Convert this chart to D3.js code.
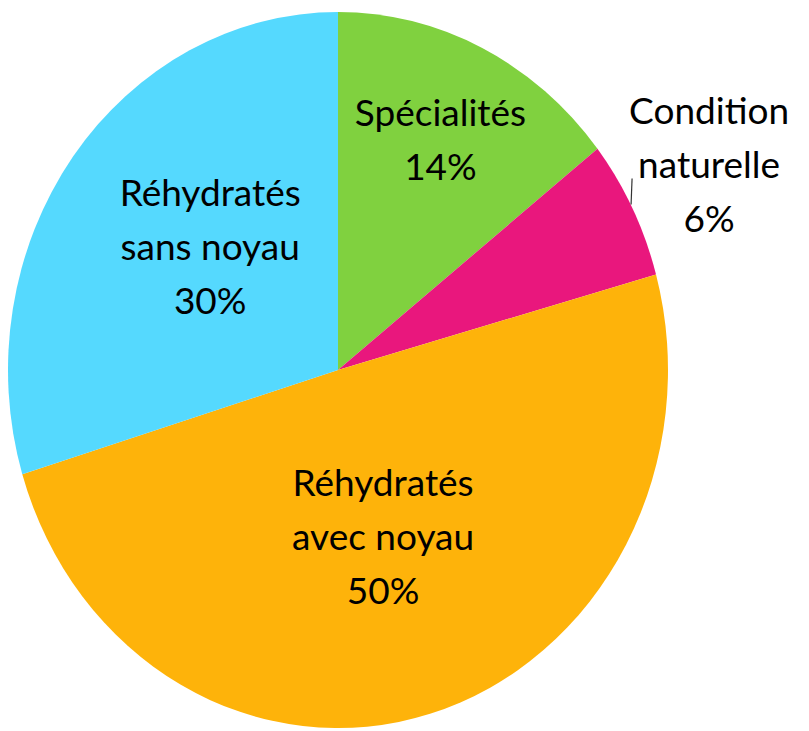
<!DOCTYPE html>
<html>
<head>
<meta charset="utf-8">
<script src="https://cdn.jsdelivr.net/npm/d3@7"></script>
<style>
  body { margin: 0; background: #fff; }
  text { font-family: Lato, "Open Sans", sans-serif; fill: #000; }
</style>
</head>
<body>
<div id="chart"></div>
<script>
// slice data, clockwise from 12 o'clock
var categories = ["Spécialités", "Condition naturelle", "Réhydratés avec noyau", "Réhydratés sans noyau"];
var values = [14.4, 6.3, 49.6, 29.7];
var labelLines = [
    ["Spécialités", "14%"],
    ["Condition", "naturelle", "6%"],
    ["Réhydratés", "avec noyau", "50%"],
    ["Réhydratés", "sans noyau", "30%"]
];
var colors = ["#80d13f", "#e9177d", "#feb30a", "#55d9fe"];

var width = 809, height = 731;
var cx = 338, cy = 370;
var r = 330;
var yStretch = 358 / 330; // the pie is a bit taller than wide

// how far out each label sits (fraction of radius) + small nudges
var labelR = [0.71, 1.26, 0.49, 0.516];
var labelNudge = [[0, 0], [0, 0], [0, 0], [9, -12]];
var lineH = 54;

var svg = d3.select("#chart")
    .append("svg")
    .attr("width", width)
    .attr("height", height);

var pie = d3.pie().sort(null).value(function (d) { return d; });
var arcs = pie(values);

var arc = d3.arc().innerRadius(0).outerRadius(r);

var g = svg.append("g")
    .attr("transform", "translate(" + cx + "," + cy + ") scale(1," + yStretch + ")");

g.selectAll("path")
    .data(arcs)
    .enter().append("path")
    .attr("d", arc)
    .style("fill", function (d, i) { return colors[i]; });

function labelPos(d, i) {
    var a = (d.startAngle + d.endAngle) / 2;
    var x = cx + Math.sin(a) * r * labelR[i] + labelNudge[i][0];
    var y = cy - Math.cos(a) * r * yStretch * labelR[i] + labelNudge[i][1];
    return [x, y];
}

// labels
var labels = svg.selectAll(".lbl")
    .data(arcs)
    .enter().append("text")
    .attr("class", "lbl")
    .attr("text-anchor", "middle")
    .style("font-size", "37px")
    .attr("transform", function (d, i) {
        var p = labelPos(d, i);
        return "translate(" + p[0] + "," + p[1] + ")";
    });

labels.each(function (d, i) {
    var t = d3.select(this);
    var lines = labelLines[i];
    var off = -(lines.length - 1) / 2 * lineH + 12;
    lines.forEach(function (s, k) {
        t.append("tspan")
            .attr("x", 0)
            .attr("y", off + k * lineH)
            .text(s);
    });
});

// small leader line for the outside label
var lp = labelPos(arcs[1], 1);
svg.append("line")
    .attr("x1", lp[0] - 77).attr("y1", lp[1] + 12)
    .attr("x2", lp[0] - 78).attr("y2", lp[1] + 38)
    .style("stroke", "#333")
    .style("stroke-width", 1.2);
</script>
</body>
</html>
